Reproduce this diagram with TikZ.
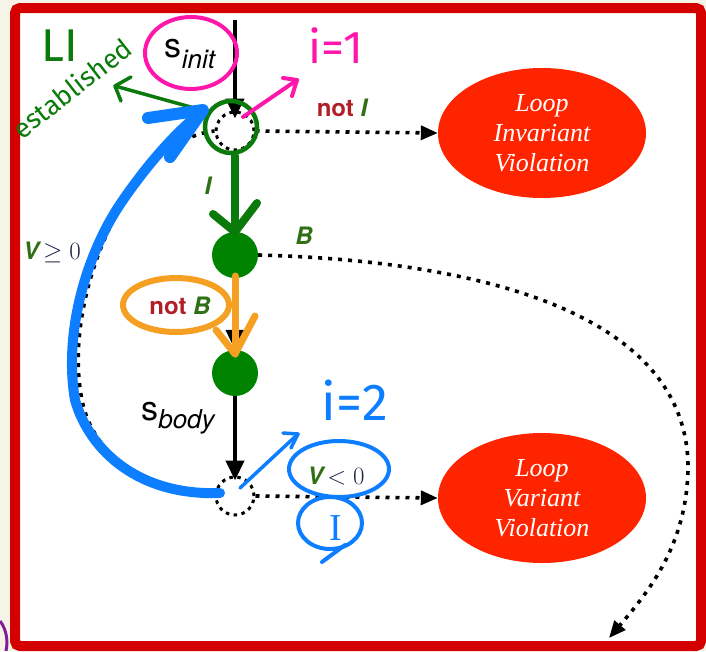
\documentclass[tikz,border=0pt]{standalone}
\usepackage{fontspec}
\newfontfamily\helv{TeX Gyre Heros}
\newfontfamily\tms{Liberation Serif}
\newfontfamily\hand{Fira Sans}
\usetikzlibrary{arrows.meta,shapes.geometric,calc}
\definecolor{cream}{RGB}{246,244,230}
\definecolor{framered}{RGB}{212,0,0}
\definecolor{violred}{RGB}{255,36,0}
\definecolor{nodegreen}{RGB}{0,132,0}
\definecolor{lblgreen}{RGB}{48,112,20}
\definecolor{notred}{RGB}{176,30,40}
\definecolor{handgreen}{RGB}{10,122,10}
\definecolor{handblue}{RGB}{12,126,255}
\definecolor{handorange}{RGB}{245,160,35}
\definecolor{handpink}{RGB}{255,22,170}
\definecolor{mathnavy}{RGB}{30,40,70}
\definecolor{purp}{RGB}{130,30,150}
\tikzset{
  dotc/.style={circle,draw=black,dash pattern=on 3.5pt off 4.5pt,line width=3pt,minimum size=38pt,inner sep=0pt},
  gnode/.style={circle,fill=nodegreen,minimum size=46pt,inner sep=0pt},
  viol/.style={ellipse,fill=violred,minimum width=208pt,minimum height=130pt,inner sep=0pt,align=center,
     text=white,font=\tms\itshape\fontsize{26}{30}\selectfont},
  blk/.style={draw=black,line width=4.4pt,-{Triangle[length=20pt,width=18pt]}},
  dotarrow/.style={draw=black,line width=3.6pt,dash pattern=on 4pt off 6pt,-{Triangle[length=17pt,width=14pt]}},
  lbl/.style={font=\helv\bfseries\fontsize{24}{28}\selectfont,inner sep=0pt},
  sansl/.style={font=\helv\fontsize{34}{40}\selectfont,inner sep=0pt},
  hstroke/.style={line cap=round,line join=round},
  handtext/.style={font=\hand\fontsize{40}{44}\selectfont,inner sep=0pt},
}
\begin{document}
\begin{tikzpicture}[x=1pt,y=-1pt]
\useasboundingbox (0,0) rectangle (706,651);
\fill[cream] (0,0) rectangle (706,651);
\fill[white] (15,8) rectangle (701,646);
\draw[framered,line width=10pt,rounded corners=5pt] (15,8) rectangle (701,646);
\draw[purp,line width=3pt] (0,621) .. controls (7,630) and (8,642) .. (6,651);

% nodes
\node[dotc] (n0) at (235,131) {};
\node[dotc] (n3) at (235,496) {};
\node[gnode] (n1) at (235,255) {};
\node[gnode] (n2) at (235,373) {};
\node[viol] (liv) at (542,133) {Loop\\Invariant\\Violation};
\node[viol] (lvv) at (542,498) {Loop\\Variant\\Violation};
\coordinate (top) at (235,20);
\coordinate (bend) at (609,638);

% edges
\draw[blk,shorten >=-8pt] (top) -- (n0.north);
\draw[blk] (n1.south) -- (n2.north);
\draw[blk,shorten >=-5pt] (n2.south) -- (n3.north);
\draw[dotarrow] (n0.east) -- (liv.west);
\draw[dotarrow] (n3.east) -- (lvv.west);
\draw[dotarrow] (n1.east) .. controls (520,262) and (690,330) .. (688,470)
   .. controls (686,545) and (650,590) .. (bend);
\draw[draw=black,line width=3.6pt,dash pattern=on 4pt off 6pt] (n3.west) .. controls (150,496) and (92,455) .. (82,400)
   .. controls (68,330) and (95,245) .. (128,195) .. controls (150,160) and (180,135) .. (n0.west);

% labels
\node[lbl] (lnotI) at (342,108) {{\color{notred}not} {\color{lblgreen}\itshape I}};
\node[lbl,text=lblgreen] (lI) at (208,186) {\itshape I};
\node[lbl,text=lblgreen] (lB) at (304,236) {\itshape B};
\node[lbl] (lnotB) at (180,306) {{\color{notred}not} {\color{lblgreen}\itshape B}};
\node[lbl,anchor=base] (lV0) at (336,484) {{\color{lblgreen}\itshape V}\,{\color{mathnavy}\fontsize{26}{30}\selectfont$<0$}};
\node[lbl,anchor=base] (lVg) at (52,259) {{\color{lblgreen}\itshape V}\,{\color{mathnavy}\fontsize{26}{30}\selectfont$\geq 0$}};
\node[sansl,anchor=base] (sinit) at (190,57) {s\raisebox{-11pt}{\fontsize{26}{30}\selectfont\itshape init}};
\node[sansl,anchor=base] (sbody) at (178,420) {s\raisebox{-8pt}{\fontsize{26}{30}\selectfont\itshape body}};

% hand annotations
\draw[handgreen,line width=4.5pt] (231,127) circle [radius=26];
\draw[handgreen,line width=8pt,hstroke] (235,156) -- (235,231);
\draw[handgreen,line width=8pt,hstroke] (213,214) -- (235,232) -- (257,203);
\draw[handorange,line width=7pt,hstroke] (235,276) -- (235,354);
\draw[handorange,line width=7pt,hstroke] (216,330) -- (235,354) -- (255,316);
\draw[handorange,line width=6pt] (176,305) ellipse [x radius=53, y radius=27];
\draw[handpink,line width=4pt] (191,53) ellipse [x radius=46, y radius=36];
\draw[handpink,line width=4pt,hstroke] (243,117) -- (297,80);
\draw[handpink,line width=4pt,hstroke] (283,78) -- (297,80) -- (292,96);
\node[handtext,text=handpink,font=\hand\fontsize{46}{50}\selectfont] (i1) at (336,46) {i=1};
\draw[handgreen,line width=3.5pt,hstroke] (205,111) -- (115,86);
\draw[handgreen,line width=3.5pt,hstroke] (131,77) -- (115,86) -- (121,101);
\node[handtext,text=handgreen,font=\hand\fontsize{46}{50}\selectfont] (LI) at (60,46) {LI};
\node[handtext,text=handgreen,rotate=38,font=\hand\fontsize{27}{30}\selectfont] (est) at (72,88) {established};
% blue
\draw[handblue,line width=10pt,hstroke] (220,493) .. controls (140,496) and (90,452) .. (75,400)
   .. controls (63,330) and (88,250) .. (123,200) .. controls (145,168) and (175,132) .. (203,111);
\draw[handblue,line width=12pt,hstroke] (148,118) -- (203,110) -- (170,157);
\draw[handblue,line width=3.5pt,hstroke] (240,488) -- (298,434);
\draw[handblue,line width=3.5pt,hstroke] (283,433) -- (298,434) -- (291,448);
\node[handtext,text=handblue,font=\hand\fontsize{52}{56}\selectfont] (i2) at (355,400) {i=2};
\draw[handblue,line width=4pt] (339,469) ellipse [x radius=50, y radius=28];
\draw[handblue,line width=4pt] (330,523) ellipse [x radius=32, y radius=26];
\draw[handblue,line width=4pt,hstroke] (345,545) -- (322,562);
\node[text=handblue,inner sep=0pt,font=\tms\fontsize{38}{40}\selectfont] (bI) at (336,528) {I};
\end{tikzpicture}
\end{document}
